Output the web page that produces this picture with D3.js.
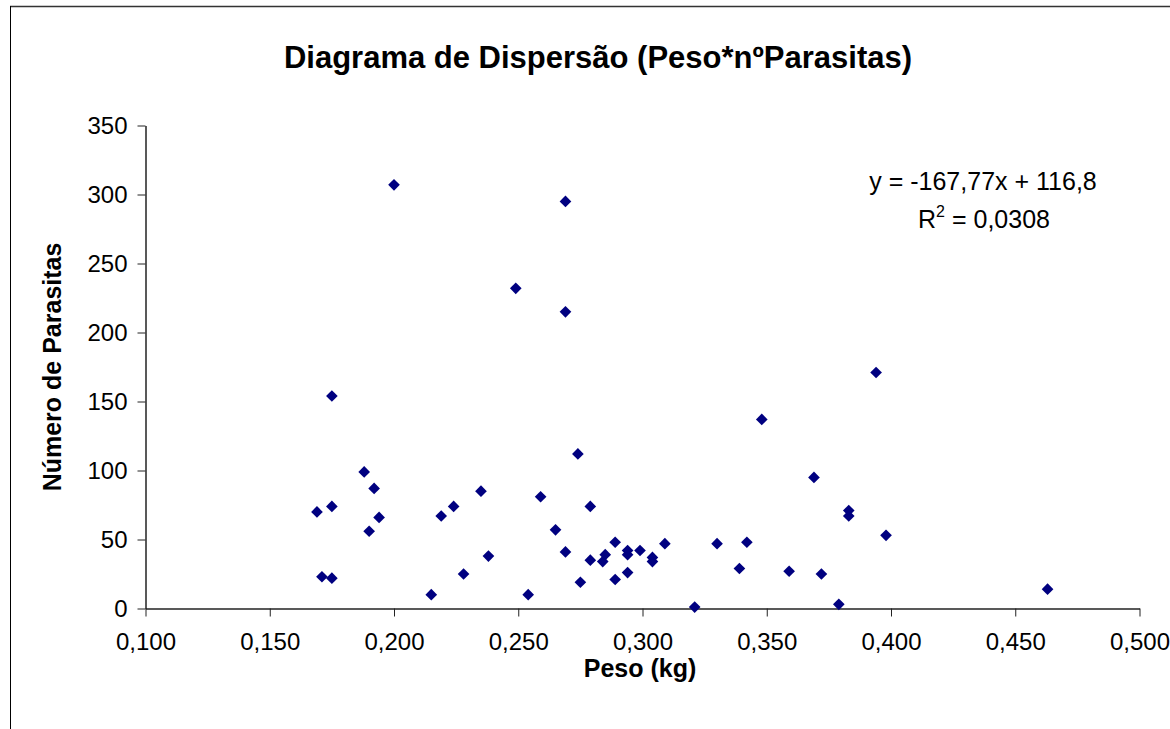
<!DOCTYPE html>
<html>
<head>
<meta charset="utf-8">
<script src="https://cdn.jsdelivr.net/npm/d3@7"></script>
<style>
  body { margin: 0; background: #fff; }
  text { font-family: "Liberation Sans", Arial, sans-serif; fill: #000; }
</style>
</head>
<body>
<svg id="chart" width="1170" height="729"></svg>
<script>
"use strict";

// peso (kg) e número de parasitas
const peso = [
  0.200, 0.175, 0.188, 0.192, 0.169, 0.175, 0.194, 0.190, 0.219, 0.224,
  0.235, 0.171, 0.175, 0.228, 0.215, 0.238, 0.254, 0.259, 0.265, 0.269,
  0.274, 0.279, 0.275, 0.279, 0.284, 0.285, 0.289, 0.289, 0.294, 0.294,
  0.294, 0.299, 0.304, 0.304, 0.309, 0.321, 0.330, 0.339, 0.342, 0.348,
  0.359, 0.269, 0.249, 0.269, 0.394, 0.369, 0.383, 0.383, 0.398, 0.372,
  0.379, 0.463
];
const parasitas = [
  307, 154, 99, 87, 70, 74, 66, 56, 67, 74,
  85, 23, 22, 25, 10, 38, 10, 81, 57, 41,
  112, 74, 19, 35, 34, 39, 48, 21, 42, 39,
  26, 42, 37, 34, 47, 1, 47, 29, 48, 137,
  27, 295, 232, 215, 171, 95, 71, 67, 53, 25,
  3, 14
];
const xTicks = [0.1, 0.15, 0.2, 0.25, 0.3, 0.35, 0.4, 0.45, 0.5];
const yTicks = [0, 50, 100, 150, 200, 250, 300, 350];

const titulo = "Diagrama de Dispersão (Peso*nºParasitas)";
const tituloX = "Peso (kg)";
const tituloY = "Número de Parasitas";
const equacao = "y = -167,77x + 116,8";
const r2 = "= 0,0308";

const svg = d3.select("#chart");

// moldura (só topo e esquerda aparecem)
svg.append("line").attr("x1", 10).attr("y1", 6.5).attr("x2", 1170).attr("y2", 6.5)
  .attr("stroke", "#333").attr("stroke-width", 1.5);
svg.append("line").attr("x1", 10.5).attr("y1", 6).attr("x2", 10.5).attr("y2", 729)
  .attr("stroke", "#000").attr("stroke-width", 1);

const margin = { left: 145.5, top: 125.5, right: 1139.5, bottom: 608.5 };

const x = d3.scaleLinear().domain([0.1, 0.5]).range([margin.left, margin.right]);
const y = d3.scaleLinear().domain([0, 350]).range([margin.bottom, margin.top]);

const pt = d3.formatLocale({ decimal: ",", thousands: ".", grouping: [3], currency: ["", ""] });

const xAxis = svg.append("g")
  .attr("transform", `translate(0,${margin.bottom})`)
  .call(d3.axisBottom(x).tickValues(xTicks).tickFormat(pt.format(".3f")).tickSize(8).tickSizeOuter(0));
const yAxis = svg.append("g")
  .attr("transform", `translate(${margin.left},0)`)
  .call(d3.axisLeft(y).tickValues(yTicks).tickSize(8).tickSizeOuter(0));

[xAxis, yAxis].forEach(g => {
  g.select(".domain").attr("stroke", "#222").attr("stroke-width", 1.5);
  g.selectAll(".tick line").attr("stroke", "#222").attr("stroke-width", 1);
  g.selectAll(".tick text")
    .style("font-family", "'Liberation Sans', Arial, sans-serif")
    .style("font-size", "24px").attr("fill", "#000");
});
xAxis.selectAll(".tick text").attr("y", 24);
yAxis.selectAll(".tick text").attr("x", -18);

// pontos
const dados = peso.map((p, i) => ({ p: p, n: parasitas[i] }));
const losango = d3.symbol().type(d3.symbolSquare).size(68);
svg.append("g").selectAll("path")
  .data(dados)
  .enter()
  .append("path")
  .attr("d", losango)
  .attr("transform", d => `translate(${x(d.p)},${y(d.n)}) rotate(45)`)
  .attr("fill", "#000080");

// títulos
svg.append("text").attr("x", 598).attr("y", 68).attr("text-anchor", "middle")
  .style("font-size", "31px").style("font-weight", "bold").text(titulo);
svg.append("text").attr("x", 640).attr("y", 677).attr("text-anchor", "middle")
  .style("font-size", "25px").style("font-weight", "bold").text(tituloX);
svg.append("text").attr("transform", "translate(61,367) rotate(-90)").attr("text-anchor", "middle")
  .style("font-size", "25px").style("font-weight", "bold").text(tituloY);

// equação da tendência
svg.append("text").attr("x", 983).attr("y", 190).attr("text-anchor", "middle")
  .style("font-size", "25px").text(equacao);
const r2t = svg.append("text").attr("x", 984).attr("y", 228).attr("text-anchor", "middle")
  .style("font-size", "25px");
r2t.append("tspan").text("R");
r2t.append("tspan").attr("dy", -11).style("font-size", "16px").text("2");
r2t.append("tspan").attr("dy", 11).text(" " + r2);
</script>
</body>
</html>
